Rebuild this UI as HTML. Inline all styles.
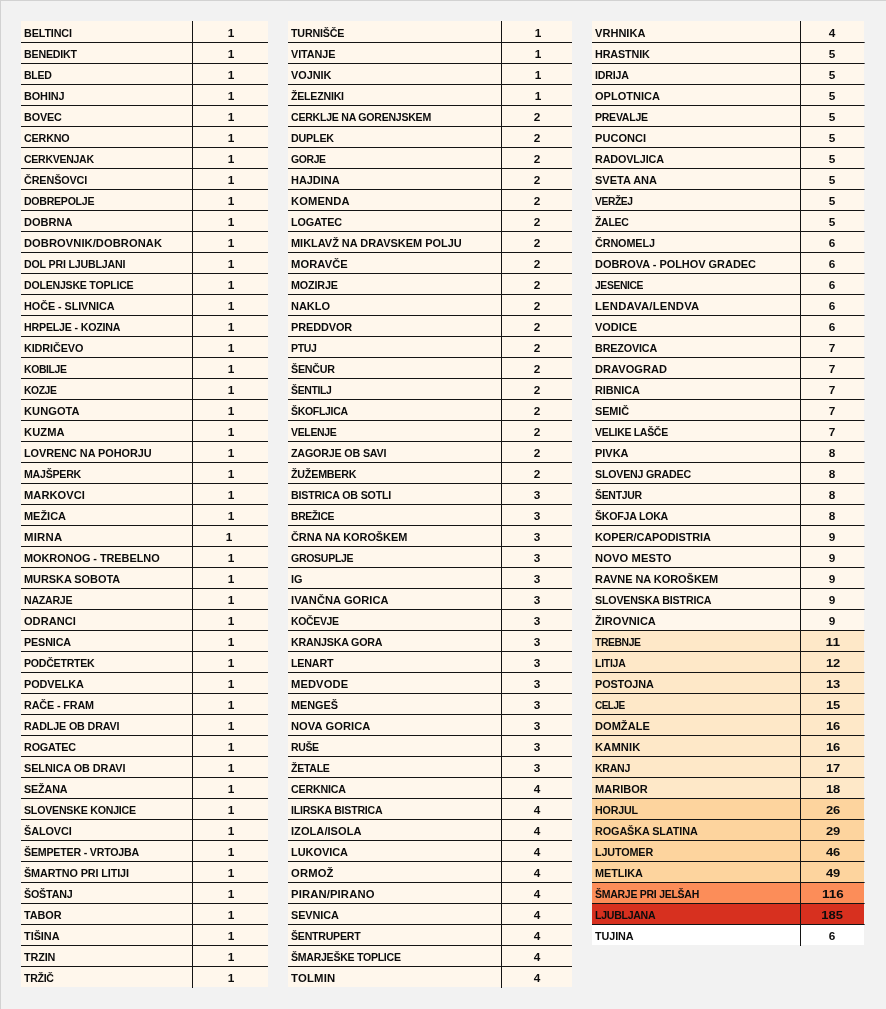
<!DOCTYPE html>
<html><head><meta charset="utf-8"><title>table</title>
<style>
html,body{margin:0;padding:0}
body{width:886px;height:1009px;background:#f2f2f2;position:relative;overflow:hidden;font-family:"Liberation Sans",sans-serif;font-weight:bold;font-size:11px;color:#0c0c0c}
.bt{position:absolute;left:0;top:0;width:886px;height:1px;background:#d2d2d2}
.bl{position:absolute;left:0;top:0;width:1px;height:1009px;background:#d2d2d2}
.t{position:absolute;top:21px;will-change:transform}
.r{position:relative;height:20px;border-bottom:1px solid #141414;background:#fff7ec}
.r.first{height:21px}
.r.last{border-bottom:0}
.r.b{background:#fee8c8}
.r.c{background:#fdd49e}
.r.d{background:#fc8d59}
.r.e{background:#d7301f}
.r.w{background:#ffffff}
.vl{position:absolute;top:0;width:1px;background:#141414;z-index:2}
.ext{position:absolute;top:0;width:1px;background:repeating-linear-gradient(to bottom,rgba(20,20,20,0) 0,rgba(20,20,20,0) 20px,rgba(20,20,20,.65) 20px,rgba(20,20,20,.65) 21px);background-position:0 1px}
.n,.v{position:absolute;bottom:0;height:20px;line-height:20px;white-space:nowrap;overflow:visible}
.n{left:0}
.n i{font-style:normal;display:inline-block;transform-origin:0 50%;transform:scaleX(1.0);position:relative;left:3px;top:1px}
.v{text-align:center}
.v i{font-style:normal;display:inline-block;transform:scaleX(1.0);position:relative;top:1px}
</style></head><body>
<div class="bt"></div><div class="bl"></div>
<div class="t" style="left:21px;width:247px">
<div class="vl" style="left:171px;height:967px"></div>
<div class="r first"><span class="n" style="width:171px"><i style="transform:scaleX(0.98);letter-spacing:-0.13px">BELTINCI</i></span><span class="v" style="left:172px;width:75px"><i style="transform:scaleX(1.072);left:.7px">1</i></span></div>
<div class="r"><span class="n" style="width:171px"><i style="transform:scaleX(0.97);letter-spacing:-0.21px">BENEDIKT</i></span><span class="v" style="left:172px;width:75px"><i style="transform:scaleX(1.072);left:.7px">1</i></span></div>
<div class="r"><span class="n" style="width:171px"><i style="transform:scaleX(0.958);letter-spacing:-0.31px">BLED</i></span><span class="v" style="left:172px;width:75px"><i style="transform:scaleX(1.072);left:.7px">1</i></span></div>
<div class="r"><span class="n" style="width:171px"><i style="transform:scaleX(0.988);letter-spacing:-0.09px">BOHINJ</i></span><span class="v" style="left:172px;width:75px"><i style="transform:scaleX(1.072);left:.7px">1</i></span></div>
<div class="r"><span class="n" style="width:171px"><i style="transform:scaleX(0.981);letter-spacing:-0.14px">BOVEC</i></span><span class="v" style="left:172px;width:75px"><i style="transform:scaleX(1.072);left:.7px">1</i></span></div>
<div class="r"><span class="n" style="width:171px"><i style="transform:scaleX(0.977);letter-spacing:-0.18px">CERKNO</i></span><span class="v" style="left:172px;width:75px"><i style="transform:scaleX(1.072);left:.7px">1</i></span></div>
<div class="r"><span class="n" style="width:171px"><i style="transform:scaleX(0.959);letter-spacing:-0.31px">CERKVENJAK</i></span><span class="v" style="left:172px;width:75px"><i style="transform:scaleX(1.072);left:.7px">1</i></span></div>
<div class="r"><span class="n" style="width:171px"><i style="transform:scaleX(0.983);letter-spacing:-0.13px">ČRENŠOVCI</i></span><span class="v" style="left:172px;width:75px"><i style="transform:scaleX(1.072);left:.7px">1</i></span></div>
<div class="r"><span class="n" style="width:171px"><i style="transform:scaleX(0.962);letter-spacing:-0.28px">DOBREPOLJE</i></span><span class="v" style="left:172px;width:75px"><i style="transform:scaleX(1.072);left:.7px">1</i></span></div>
<div class="r"><span class="n" style="width:171px"><i style="transform:scaleX(1.002);letter-spacing:0.01px">DOBRNA</i></span><span class="v" style="left:172px;width:75px"><i style="transform:scaleX(1.072);left:.7px">1</i></span></div>
<div class="r"><span class="n" style="width:171px"><i style="transform:scaleX(1.011);letter-spacing:0.08px">DOBROVNIK/DOBRONAK</i></span><span class="v" style="left:172px;width:75px"><i style="transform:scaleX(1.072);left:.7px">1</i></span></div>
<div class="r"><span class="n" style="width:171px"><i style="transform:scaleX(0.969);letter-spacing:-0.2px">DOL PRI LJUBLJANI</i></span><span class="v" style="left:172px;width:75px"><i style="transform:scaleX(1.072);left:.7px">1</i></span></div>
<div class="r"><span class="n" style="width:171px"><i style="transform:scaleX(0.964);letter-spacing:-0.25px">DOLENJSKE TOPLICE</i></span><span class="v" style="left:172px;width:75px"><i style="transform:scaleX(1.072);left:.7px">1</i></span></div>
<div class="r"><span class="n" style="width:171px"><i style="transform:scaleX(0.987);letter-spacing:-0.08px">HOČE - SLIVNICA</i></span><span class="v" style="left:172px;width:75px"><i style="transform:scaleX(1.072);left:.7px">1</i></span></div>
<div class="r"><span class="n" style="width:171px"><i style="transform:scaleX(0.968);letter-spacing:-0.2px">HRPELJE - KOZINA</i></span><span class="v" style="left:172px;width:75px"><i style="transform:scaleX(1.072);left:.7px">1</i></span></div>
<div class="r"><span class="n" style="width:171px"><i style="transform:scaleX(0.985);letter-spacing:-0.11px">KIDRIČEVO</i></span><span class="v" style="left:172px;width:75px"><i style="transform:scaleX(1.072);left:.7px">1</i></span></div>
<div class="r"><span class="n" style="width:171px"><i style="transform:scaleX(0.946);letter-spacing:-0.37px">KOBILJE</i></span><span class="v" style="left:172px;width:75px"><i style="transform:scaleX(1.072);left:.7px">1</i></span></div>
<div class="r"><span class="n" style="width:171px"><i style="transform:scaleX(0.94);letter-spacing:-0.44px">KOZJE</i></span><span class="v" style="left:172px;width:75px"><i style="transform:scaleX(1.072);left:.7px">1</i></span></div>
<div class="r"><span class="n" style="width:171px"><i style="transform:scaleX(1.008);letter-spacing:0.06px">KUNGOTA</i></span><span class="v" style="left:172px;width:75px"><i style="transform:scaleX(1.072);left:.7px">1</i></span></div>
<div class="r"><span class="n" style="width:171px"><i style="transform:scaleX(1.012);letter-spacing:0.09px">KUZMA</i></span><span class="v" style="left:172px;width:75px"><i style="transform:scaleX(1.072);left:.7px">1</i></span></div>
<div class="r"><span class="n" style="width:171px"><i style="transform:scaleX(0.991);letter-spacing:-0.06px">LOVRENC NA POHORJU</i></span><span class="v" style="left:172px;width:75px"><i style="transform:scaleX(1.072);left:.7px">1</i></span></div>
<div class="r"><span class="n" style="width:171px"><i style="transform:scaleX(0.966);letter-spacing:-0.26px">MAJŠPERK</i></span><span class="v" style="left:172px;width:75px"><i style="transform:scaleX(1.072);left:.7px">1</i></span></div>
<div class="r"><span class="n" style="width:171px"><i style="transform:scaleX(1.009);letter-spacing:0.07px">MARKOVCI</i></span><span class="v" style="left:172px;width:75px"><i style="transform:scaleX(1.072);left:.7px">1</i></span></div>
<div class="r"><span class="n" style="width:171px"><i style="transform:scaleX(0.998);letter-spacing:-0.02px">MEŽICA</i></span><span class="v" style="left:172px;width:75px"><i style="transform:scaleX(1.072);left:.7px">1</i></span></div>
<div class="r"><span class="n" style="width:171px"><i style="transform:scaleX(1.033);letter-spacing:0.23px">MIRNA</i></span><span class="v" style="left:172px;width:75px"><i style="transform:scaleX(1.072);left:-1.1px">1</i></span></div>
<div class="r"><span class="n" style="width:171px"><i style="transform:scaleX(0.993);letter-spacing:-0.05px">MOKRONOG - TREBELNO</i></span><span class="v" style="left:172px;width:75px"><i style="transform:scaleX(1.072);left:.7px">1</i></span></div>
<div class="r"><span class="n" style="width:171px"><i style="transform:scaleX(0.994);letter-spacing:-0.04px">MURSKA SOBOTA</i></span><span class="v" style="left:172px;width:75px"><i style="transform:scaleX(1.072);left:.7px">1</i></span></div>
<div class="r"><span class="n" style="width:171px"><i style="transform:scaleX(0.964);letter-spacing:-0.26px">NAZARJE</i></span><span class="v" style="left:172px;width:75px"><i style="transform:scaleX(1.072);left:.7px">1</i></span></div>
<div class="r"><span class="n" style="width:171px"><i style="transform:scaleX(1.004);letter-spacing:0.03px">ODRANCI</i></span><span class="v" style="left:172px;width:75px"><i style="transform:scaleX(1.072);left:.7px">1</i></span></div>
<div class="r"><span class="n" style="width:171px"><i style="transform:scaleX(0.979);letter-spacing:-0.14px">PESNICA</i></span><span class="v" style="left:172px;width:75px"><i style="transform:scaleX(1.072);left:.7px">1</i></span></div>
<div class="r"><span class="n" style="width:171px"><i style="transform:scaleX(0.964);letter-spacing:-0.27px">PODČETRTEK</i></span><span class="v" style="left:172px;width:75px"><i style="transform:scaleX(1.072);left:.7px">1</i></span></div>
<div class="r"><span class="n" style="width:171px"><i style="transform:scaleX(0.989);letter-spacing:-0.09px">PODVELKA</i></span><span class="v" style="left:172px;width:75px"><i style="transform:scaleX(1.072);left:.7px">1</i></span></div>
<div class="r"><span class="n" style="width:171px"><i style="transform:scaleX(0.981);letter-spacing:-0.13px">RAČE - FRAM</i></span><span class="v" style="left:172px;width:75px"><i style="transform:scaleX(1.072);left:.7px">1</i></span></div>
<div class="r"><span class="n" style="width:171px"><i style="transform:scaleX(0.976);letter-spacing:-0.15px">RADLJE OB DRAVI</i></span><span class="v" style="left:172px;width:75px"><i style="transform:scaleX(1.072);left:.7px">1</i></span></div>
<div class="r"><span class="n" style="width:171px"><i style="transform:scaleX(0.98);letter-spacing:-0.16px">ROGATEC</i></span><span class="v" style="left:172px;width:75px"><i style="transform:scaleX(1.072);left:.7px">1</i></span></div>
<div class="r"><span class="n" style="width:171px"><i style="transform:scaleX(0.989);letter-spacing:-0.08px">SELNICA OB DRAVI</i></span><span class="v" style="left:172px;width:75px"><i style="transform:scaleX(1.072);left:.7px">1</i></span></div>
<div class="r"><span class="n" style="width:171px"><i style="transform:scaleX(0.979);letter-spacing:-0.15px">SEŽANA</i></span><span class="v" style="left:172px;width:75px"><i style="transform:scaleX(1.072);left:.7px">1</i></span></div>
<div class="r"><span class="n" style="width:171px"><i style="transform:scaleX(0.967);letter-spacing:-0.24px">SLOVENSKE KONJICE</i></span><span class="v" style="left:172px;width:75px"><i style="transform:scaleX(1.072);left:.7px">1</i></span></div>
<div class="r"><span class="n" style="width:171px"><i style="transform:scaleX(0.988);letter-spacing:-0.08px">ŠALOVCI</i></span><span class="v" style="left:172px;width:75px"><i style="transform:scaleX(1.072);left:.7px">1</i></span></div>
<div class="r"><span class="n" style="width:171px"><i style="transform:scaleX(0.968);letter-spacing:-0.21px">ŠEMPETER - VRTOJBA</i></span><span class="v" style="left:172px;width:75px"><i style="transform:scaleX(1.072);left:.7px">1</i></span></div>
<div class="r"><span class="n" style="width:171px"><i style="transform:scaleX(0.982);letter-spacing:-0.11px">ŠMARTNO PRI LITIJI</i></span><span class="v" style="left:172px;width:75px"><i style="transform:scaleX(1.072);left:.7px">1</i></span></div>
<div class="r"><span class="n" style="width:171px"><i style="transform:scaleX(0.974);letter-spacing:-0.19px">ŠOŠTANJ</i></span><span class="v" style="left:172px;width:75px"><i style="transform:scaleX(1.072);left:.7px">1</i></span></div>
<div class="r"><span class="n" style="width:171px"><i style="transform:scaleX(0.989);letter-spacing:-0.08px">TABOR</i></span><span class="v" style="left:172px;width:75px"><i style="transform:scaleX(1.072);left:.7px">1</i></span></div>
<div class="r"><span class="n" style="width:171px"><i style="transform:scaleX(0.993);letter-spacing:-0.04px">TIŠINA</i></span><span class="v" style="left:172px;width:75px"><i style="transform:scaleX(1.072);left:.7px">1</i></span></div>
<div class="r"><span class="n" style="width:171px"><i style="transform:scaleX(0.984);letter-spacing:-0.11px">TRZIN</i></span><span class="v" style="left:172px;width:75px"><i style="transform:scaleX(1.072);left:.7px">1</i></span></div>
<div class="r last"><span class="n" style="width:171px"><i style="transform:scaleX(0.958);letter-spacing:-0.28px">TRŽIČ</i></span><span class="v" style="left:172px;width:75px"><i style="transform:scaleX(1.072);left:.7px">1</i></span></div>
</div>
<div class="t" style="left:288px;width:284px">
<div class="vl" style="left:213px;height:967px"></div>
<div class="r first"><span class="n" style="width:213px"><i style="transform:scaleX(0.973);letter-spacing:-0.2px">TURNIŠČE</i></span><span class="v" style="left:214px;width:70px"><i style="transform:scaleX(1.072);left:.7px">1</i></span></div>
<div class="r"><span class="n" style="width:213px"><i style="transform:scaleX(0.987);letter-spacing:-0.09px">VITANJE</i></span><span class="v" style="left:214px;width:70px"><i style="transform:scaleX(1.072);left:.7px">1</i></span></div>
<div class="r"><span class="n" style="width:213px"><i style="transform:scaleX(0.991);letter-spacing:-0.06px">VOJNIK</i></span><span class="v" style="left:214px;width:70px"><i style="transform:scaleX(1.072);left:.7px">1</i></span></div>
<div class="r"><span class="n" style="width:213px"><i style="transform:scaleX(0.964);letter-spacing:-0.23px">ŽELEZNIKI</i></span><span class="v" style="left:214px;width:70px"><i style="transform:scaleX(1.072);left:.7px">1</i></span></div>
<div class="r"><span class="n" style="width:213px"><i style="transform:scaleX(0.962);letter-spacing:-0.27px">CERKLJE NA GORENJSKEM</i></span><span class="v" style="left:214px;width:70px"><i style="transform:scaleX(1.072)">2</i></span></div>
<div class="r"><span class="n" style="width:213px"><i style="transform:scaleX(0.974);letter-spacing:-0.2px">DUPLEK</i></span><span class="v" style="left:214px;width:70px"><i style="transform:scaleX(1.072)">2</i></span></div>
<div class="r"><span class="n" style="width:213px"><i style="transform:scaleX(0.948);letter-spacing:-0.39px">GORJE</i></span><span class="v" style="left:214px;width:70px"><i style="transform:scaleX(1.072)">2</i></span></div>
<div class="r"><span class="n" style="width:213px"><i style="transform:scaleX(0.997);letter-spacing:-0.03px">HAJDINA</i></span><span class="v" style="left:214px;width:70px"><i style="transform:scaleX(1.072)">2</i></span></div>
<div class="r"><span class="n" style="width:213px"><i style="transform:scaleX(1.016);letter-spacing:0.13px">KOMENDA</i></span><span class="v" style="left:214px;width:70px"><i style="transform:scaleX(1.072)">2</i></span></div>
<div class="r"><span class="n" style="width:213px"><i style="transform:scaleX(0.98);letter-spacing:-0.15px">LOGATEC</i></span><span class="v" style="left:214px;width:70px"><i style="transform:scaleX(1.072)">2</i></span></div>
<div class="r"><span class="n" style="width:213px"><i style="transform:scaleX(0.998);letter-spacing:-0.02px">MIKLAVŽ NA DRAVSKEM POLJU</i></span><span class="v" style="left:214px;width:70px"><i style="transform:scaleX(1.072)">2</i></span></div>
<div class="r"><span class="n" style="width:213px"><i style="transform:scaleX(1.014);letter-spacing:0.1px">MORAVČE</i></span><span class="v" style="left:214px;width:70px"><i style="transform:scaleX(1.072)">2</i></span></div>
<div class="r"><span class="n" style="width:213px"><i style="transform:scaleX(0.979);letter-spacing:-0.14px">MOZIRJE</i></span><span class="v" style="left:214px;width:70px"><i style="transform:scaleX(1.072)">2</i></span></div>
<div class="r"><span class="n" style="width:213px"><i style="transform:scaleX(0.999);letter-spacing:-0.01px">NAKLO</i></span><span class="v" style="left:214px;width:70px"><i style="transform:scaleX(1.072)">2</i></span></div>
<div class="r"><span class="n" style="width:213px"><i style="transform:scaleX(0.99);letter-spacing:-0.08px">PREDDVOR</i></span><span class="v" style="left:214px;width:70px"><i style="transform:scaleX(1.072)">2</i></span></div>
<div class="r"><span class="n" style="width:213px"><i style="transform:scaleX(0.954);letter-spacing:-0.32px">PTUJ</i></span><span class="v" style="left:214px;width:70px"><i style="transform:scaleX(1.072)">2</i></span></div>
<div class="r"><span class="n" style="width:213px"><i style="transform:scaleX(0.972);letter-spacing:-0.22px">ŠENČUR</i></span><span class="v" style="left:214px;width:70px"><i style="transform:scaleX(1.072)">2</i></span></div>
<div class="r"><span class="n" style="width:213px"><i style="transform:scaleX(0.947);letter-spacing:-0.34px">ŠENTILJ</i></span><span class="v" style="left:214px;width:70px"><i style="transform:scaleX(1.072)">2</i></span></div>
<div class="r"><span class="n" style="width:213px"><i style="transform:scaleX(0.954);letter-spacing:-0.32px">ŠKOFLJICA</i></span><span class="v" style="left:214px;width:70px"><i style="transform:scaleX(1.072)">2</i></span></div>
<div class="r"><span class="n" style="width:213px"><i style="transform:scaleX(0.953);letter-spacing:-0.34px">VELENJE</i></span><span class="v" style="left:214px;width:70px"><i style="transform:scaleX(1.072)">2</i></span></div>
<div class="r"><span class="n" style="width:213px"><i style="transform:scaleX(0.974);letter-spacing:-0.18px">ZAGORJE OB SAVI</i></span><span class="v" style="left:214px;width:70px"><i style="transform:scaleX(1.072)">2</i></span></div>
<div class="r"><span class="n" style="width:213px"><i style="transform:scaleX(0.973);letter-spacing:-0.21px">ŽUŽEMBERK</i></span><span class="v" style="left:214px;width:70px"><i style="transform:scaleX(1.072)">2</i></span></div>
<div class="r"><span class="n" style="width:213px"><i style="transform:scaleX(0.969);letter-spacing:-0.19px">BISTRICA OB SOTLI</i></span><span class="v" style="left:214px;width:70px"><i style="transform:scaleX(1.072)">3</i></span></div>
<div class="r"><span class="n" style="width:213px"><i style="transform:scaleX(0.945);letter-spacing:-0.38px">BREŽICE</i></span><span class="v" style="left:214px;width:70px"><i style="transform:scaleX(1.072)">3</i></span></div>
<div class="r"><span class="n" style="width:213px"><i style="transform:scaleX(0.994);letter-spacing:-0.05px">ČRNA NA KOROŠKEM</i></span><span class="v" style="left:214px;width:70px"><i style="transform:scaleX(1.072)">3</i></span></div>
<div class="r"><span class="n" style="width:213px"><i style="transform:scaleX(0.958);letter-spacing:-0.31px">GROSUPLJE</i></span><span class="v" style="left:214px;width:70px"><i style="transform:scaleX(1.072)">3</i></span></div>
<div class="r"><span class="n" style="width:213px"><i style="transform:scaleX(0.991);letter-spacing:-0.05px">IG</i></span><span class="v" style="left:214px;width:70px"><i style="transform:scaleX(1.072)">3</i></span></div>
<div class="r"><span class="n" style="width:213px"><i style="transform:scaleX(1.009);letter-spacing:0.06px">IVANČNA GORICA</i></span><span class="v" style="left:214px;width:70px"><i style="transform:scaleX(1.072)">3</i></span></div>
<div class="r"><span class="n" style="width:213px"><i style="transform:scaleX(0.953);letter-spacing:-0.35px">KOČEVJE</i></span><span class="v" style="left:214px;width:70px"><i style="transform:scaleX(1.072)">3</i></span></div>
<div class="r"><span class="n" style="width:213px"><i style="transform:scaleX(0.971);letter-spacing:-0.21px">KRANJSKA GORA</i></span><span class="v" style="left:214px;width:70px"><i style="transform:scaleX(1.072)">3</i></span></div>
<div class="r"><span class="n" style="width:213px"><i style="transform:scaleX(0.974);letter-spacing:-0.2px">LENART</i></span><span class="v" style="left:214px;width:70px"><i style="transform:scaleX(1.072)">3</i></span></div>
<div class="r"><span class="n" style="width:213px"><i style="transform:scaleX(1.014);letter-spacing:0.11px">MEDVODE</i></span><span class="v" style="left:214px;width:70px"><i style="transform:scaleX(1.072)">3</i></span></div>
<div class="r"><span class="n" style="width:213px"><i style="transform:scaleX(0.992);letter-spacing:-0.06px">MENGEŠ</i></span><span class="v" style="left:214px;width:70px"><i style="transform:scaleX(1.072)">3</i></span></div>
<div class="r"><span class="n" style="width:213px"><i style="transform:scaleX(1.012);letter-spacing:0.08px">NOVA GORICA</i></span><span class="v" style="left:214px;width:70px"><i style="transform:scaleX(1.072)">3</i></span></div>
<div class="r"><span class="n" style="width:213px"><i style="transform:scaleX(0.953);letter-spacing:-0.36px">RUŠE</i></span><span class="v" style="left:214px;width:70px"><i style="transform:scaleX(1.072)">3</i></span></div>
<div class="r"><span class="n" style="width:213px"><i style="transform:scaleX(0.959);letter-spacing:-0.29px">ŽETALE</i></span><span class="v" style="left:214px;width:70px"><i style="transform:scaleX(1.072)">3</i></span></div>
<div class="r"><span class="n" style="width:213px"><i style="transform:scaleX(0.972);letter-spacing:-0.2px">CERKNICA</i></span><span class="v" style="left:214px;width:70px"><i style="transform:scaleX(1.072)">4</i></span></div>
<div class="r"><span class="n" style="width:213px"><i style="transform:scaleX(0.963);letter-spacing:-0.23px">ILIRSKA BISTRICA</i></span><span class="v" style="left:214px;width:70px"><i style="transform:scaleX(1.072)">4</i></span></div>
<div class="r"><span class="n" style="width:213px"><i style="transform:scaleX(1.006);letter-spacing:0.04px">IZOLA/ISOLA</i></span><span class="v" style="left:214px;width:70px"><i style="transform:scaleX(1.072)">4</i></span></div>
<div class="r"><span class="n" style="width:213px"><i style="transform:scaleX(0.995);letter-spacing:-0.03px">LUKOVICA</i></span><span class="v" style="left:214px;width:70px"><i style="transform:scaleX(1.072)">4</i></span></div>
<div class="r"><span class="n" style="width:213px"><i style="transform:scaleX(1.02);letter-spacing:0.17px">ORMOŽ</i></span><span class="v" style="left:214px;width:70px"><i style="transform:scaleX(1.072)">4</i></span></div>
<div class="r"><span class="n" style="width:213px"><i style="transform:scaleX(1.022);letter-spacing:0.14px">PIRAN/PIRANO</i></span><span class="v" style="left:214px;width:70px"><i style="transform:scaleX(1.072)">4</i></span></div>
<div class="r"><span class="n" style="width:213px"><i style="transform:scaleX(0.988);letter-spacing:-0.08px">SEVNICA</i></span><span class="v" style="left:214px;width:70px"><i style="transform:scaleX(1.072)">4</i></span></div>
<div class="r"><span class="n" style="width:213px"><i style="transform:scaleX(0.964);letter-spacing:-0.26px">ŠENTRUPERT</i></span><span class="v" style="left:214px;width:70px"><i style="transform:scaleX(1.072)">4</i></span></div>
<div class="r"><span class="n" style="width:213px"><i style="transform:scaleX(0.96);letter-spacing:-0.28px">ŠMARJEŠKE TOPLICE</i></span><span class="v" style="left:214px;width:70px"><i style="transform:scaleX(1.072)">4</i></span></div>
<div class="r last"><span class="n" style="width:213px"><i style="transform:scaleX(1.03);letter-spacing:0.21px">TOLMIN</i></span><span class="v" style="left:214px;width:70px"><i style="transform:scaleX(1.072)">4</i></span></div>
</div>
<div class="t" style="left:592px;width:272px">
<div class="vl" style="left:208px;height:925px"></div>
<div class="r first"><span class="n" style="width:208px"><i style="transform:scaleX(1.004);letter-spacing:0.02px">VRHNIKA</i></span><span class="v" style="left:209px;width:63px"><i style="transform:scaleX(1.072)">4</i></span></div>
<div class="r"><span class="n" style="width:208px"><i style="transform:scaleX(0.982);letter-spacing:-0.13px">HRASTNIK</i></span><span class="v" style="left:209px;width:63px"><i style="transform:scaleX(1.072)">5</i></span></div>
<div class="r"><span class="n" style="width:208px"><i style="transform:scaleX(0.967);letter-spacing:-0.2px">IDRIJA</i></span><span class="v" style="left:209px;width:63px"><i style="transform:scaleX(1.072)">5</i></span></div>
<div class="r"><span class="n" style="width:208px"><i style="transform:scaleX(1.001);letter-spacing:0.0px">OPLOTNICA</i></span><span class="v" style="left:209px;width:63px"><i style="transform:scaleX(1.072)">5</i></span></div>
<div class="r"><span class="n" style="width:208px"><i style="transform:scaleX(0.96);letter-spacing:-0.29px">PREVALJE</i></span><span class="v" style="left:209px;width:63px"><i style="transform:scaleX(1.072)">5</i></span></div>
<div class="r"><span class="n" style="width:208px"><i style="transform:scaleX(1.004);letter-spacing:0.03px">PUCONCI</i></span><span class="v" style="left:209px;width:63px"><i style="transform:scaleX(1.072)">5</i></span></div>
<div class="r"><span class="n" style="width:208px"><i style="transform:scaleX(0.982);letter-spacing:-0.13px">RADOVLJICA</i></span><span class="v" style="left:209px;width:63px"><i style="transform:scaleX(1.072)">5</i></span></div>
<div class="r"><span class="n" style="width:208px"><i style="transform:scaleX(1.001);letter-spacing:0.0px">SVETA ANA</i></span><span class="v" style="left:209px;width:63px"><i style="transform:scaleX(1.072)">5</i></span></div>
<div class="r"><span class="n" style="width:208px"><i style="transform:scaleX(0.937);letter-spacing:-0.45px">VERŽEJ</i></span><span class="v" style="left:209px;width:63px"><i style="transform:scaleX(1.072)">5</i></span></div>
<div class="r"><span class="n" style="width:208px"><i style="transform:scaleX(0.956);letter-spacing:-0.32px">ŽALEC</i></span><span class="v" style="left:209px;width:63px"><i style="transform:scaleX(1.072)">5</i></span></div>
<div class="r"><span class="n" style="width:208px"><i style="transform:scaleX(0.984);letter-spacing:-0.12px">ČRNOMELJ</i></span><span class="v" style="left:209px;width:63px"><i style="transform:scaleX(1.072)">6</i></span></div>
<div class="r"><span class="n" style="width:208px"><i style="transform:scaleX(0.997);letter-spacing:-0.02px">DOBROVA - POLHOV GRADEC</i></span><span class="v" style="left:209px;width:63px"><i style="transform:scaleX(1.072)">6</i></span></div>
<div class="r"><span class="n" style="width:208px"><i style="transform:scaleX(0.94);letter-spacing:-0.41px">JESENICE</i></span><span class="v" style="left:209px;width:63px"><i style="transform:scaleX(1.072)">6</i></span></div>
<div class="r"><span class="n" style="width:208px"><i style="transform:scaleX(1.027);letter-spacing:0.19px">LENDAVA/LENDVA</i></span><span class="v" style="left:209px;width:63px"><i style="transform:scaleX(1.072)">6</i></span></div>
<div class="r"><span class="n" style="width:208px"><i style="transform:scaleX(0.997);letter-spacing:-0.02px">VODICE</i></span><span class="v" style="left:209px;width:63px"><i style="transform:scaleX(1.072)">6</i></span></div>
<div class="r"><span class="n" style="width:208px"><i style="transform:scaleX(0.979);letter-spacing:-0.15px">BREZOVICA</i></span><span class="v" style="left:209px;width:63px"><i style="transform:scaleX(1.072)">7</i></span></div>
<div class="r"><span class="n" style="width:208px"><i style="transform:scaleX(1.005);letter-spacing:0.04px">DRAVOGRAD</i></span><span class="v" style="left:209px;width:63px"><i style="transform:scaleX(1.072)">7</i></span></div>
<div class="r"><span class="n" style="width:208px"><i style="transform:scaleX(0.988);letter-spacing:-0.08px">RIBNICA</i></span><span class="v" style="left:209px;width:63px"><i style="transform:scaleX(1.072)">7</i></span></div>
<div class="r"><span class="n" style="width:208px"><i style="transform:scaleX(0.989);letter-spacing:-0.08px">SEMIČ</i></span><span class="v" style="left:209px;width:63px"><i style="transform:scaleX(1.072)">7</i></span></div>
<div class="r"><span class="n" style="width:208px"><i style="transform:scaleX(0.954);letter-spacing:-0.31px">VELIKE LAŠČE</i></span><span class="v" style="left:209px;width:63px"><i style="transform:scaleX(1.072)">7</i></span></div>
<div class="r"><span class="n" style="width:208px"><i style="transform:scaleX(0.998);letter-spacing:-0.02px">PIVKA</i></span><span class="v" style="left:209px;width:63px"><i style="transform:scaleX(1.072)">8</i></span></div>
<div class="r"><span class="n" style="width:208px"><i style="transform:scaleX(0.969);letter-spacing:-0.22px">SLOVENJ GRADEC</i></span><span class="v" style="left:209px;width:63px"><i style="transform:scaleX(1.072)">8</i></span></div>
<div class="r"><span class="n" style="width:208px"><i style="transform:scaleX(0.954);letter-spacing:-0.33px">ŠENTJUR</i></span><span class="v" style="left:209px;width:63px"><i style="transform:scaleX(1.072)">8</i></span></div>
<div class="r"><span class="n" style="width:208px"><i style="transform:scaleX(0.965);letter-spacing:-0.25px">ŠKOFJA LOKA</i></span><span class="v" style="left:209px;width:63px"><i style="transform:scaleX(1.072)">8</i></span></div>
<div class="r"><span class="n" style="width:208px"><i style="transform:scaleX(0.991);letter-spacing:-0.06px">KOPER/CAPODISTRIA</i></span><span class="v" style="left:209px;width:63px"><i style="transform:scaleX(1.072)">9</i></span></div>
<div class="r"><span class="n" style="width:208px"><i style="transform:scaleX(1.014);letter-spacing:0.11px">NOVO MESTO</i></span><span class="v" style="left:209px;width:63px"><i style="transform:scaleX(1.072)">9</i></span></div>
<div class="r"><span class="n" style="width:208px"><i style="transform:scaleX(0.997);letter-spacing:-0.03px">RAVNE NA KOROŠKEM</i></span><span class="v" style="left:209px;width:63px"><i style="transform:scaleX(1.072)">9</i></span></div>
<div class="r"><span class="n" style="width:208px"><i style="transform:scaleX(0.972);letter-spacing:-0.19px">SLOVENSKA BISTRICA</i></span><span class="v" style="left:209px;width:63px"><i style="transform:scaleX(1.072)">9</i></span></div>
<div class="r"><span class="n" style="width:208px"><i style="transform:scaleX(1.003);letter-spacing:0.02px">ŽIROVNICA</i></span><span class="v" style="left:209px;width:63px"><i style="transform:scaleX(1.072)">9</i></span></div>
<div class="r b"><span class="n" style="width:208px"><i style="transform:scaleX(0.943);letter-spacing:-0.43px">TREBNJE</i></span><span class="v" style="left:209px;width:63px"><i style="transform:scaleX(1.239);left:.6px">11</i></span></div>
<div class="r b"><span class="n" style="width:208px"><i style="transform:scaleX(0.953);letter-spacing:-0.27px">LITIJA</i></span><span class="v" style="left:209px;width:63px"><i style="transform:scaleX(1.178);left:.6px">12</i></span></div>
<div class="r b"><span class="n" style="width:208px"><i style="transform:scaleX(0.986);letter-spacing:-0.11px">POSTOJNA</i></span><span class="v" style="left:209px;width:63px"><i style="transform:scaleX(1.178);left:.6px">13</i></span></div>
<div class="r b"><span class="n" style="width:208px"><i style="transform:scaleX(0.914);letter-spacing:-0.61px">CELJE</i></span><span class="v" style="left:209px;width:63px"><i style="transform:scaleX(1.178);left:.6px">15</i></span></div>
<div class="r b"><span class="n" style="width:208px"><i style="transform:scaleX(1.004);letter-spacing:0.03px">DOMŽALE</i></span><span class="v" style="left:209px;width:63px"><i style="transform:scaleX(1.178);left:.6px">16</i></span></div>
<div class="r b"><span class="n" style="width:208px"><i style="transform:scaleX(1.016);letter-spacing:0.12px">KAMNIK</i></span><span class="v" style="left:209px;width:63px"><i style="transform:scaleX(1.178);left:.6px">16</i></span></div>
<div class="r b"><span class="n" style="width:208px"><i style="transform:scaleX(0.962);letter-spacing:-0.29px">KRANJ</i></span><span class="v" style="left:209px;width:63px"><i style="transform:scaleX(1.178);left:.6px">17</i></span></div>
<div class="r b"><span class="n" style="width:208px"><i style="transform:scaleX(1.003);letter-spacing:0.02px">MARIBOR</i></span><span class="v" style="left:209px;width:63px"><i style="transform:scaleX(1.178);left:.6px">18</i></span></div>
<div class="r c"><span class="n" style="width:208px"><i style="transform:scaleX(0.972);letter-spacing:-0.21px">HORJUL</i></span><span class="v" style="left:209px;width:63px"><i style="transform:scaleX(1.178);left:.6px">26</i></span></div>
<div class="r c"><span class="n" style="width:208px"><i style="transform:scaleX(0.985);letter-spacing:-0.1px">ROGAŠKA SLATINA</i></span><span class="v" style="left:209px;width:63px"><i style="transform:scaleX(1.178);left:.6px">29</i></span></div>
<div class="r c"><span class="n" style="width:208px"><i style="transform:scaleX(0.981);letter-spacing:-0.14px">LJUTOMER</i></span><span class="v" style="left:209px;width:63px"><i style="transform:scaleX(1.178);left:.6px">46</i></span></div>
<div class="r c"><span class="n" style="width:208px"><i style="transform:scaleX(0.989);letter-spacing:-0.08px">METLIKA</i></span><span class="v" style="left:209px;width:63px"><i style="transform:scaleX(1.178);left:.6px">49</i></span></div>
<div class="r d"><span class="n" style="width:208px"><i style="transform:scaleX(0.956);letter-spacing:-0.29px">ŠMARJE PRI JELŠAH</i></span><span class="v" style="left:209px;width:63px"><i style="transform:scaleX(1.219)">116</i></span></div>
<div class="r e"><span class="n" style="width:208px"><i style="transform:scaleX(0.961);letter-spacing:-0.29px">LJUBLJANA</i></span><span class="v" style="left:209px;width:63px"><i style="transform:scaleX(1.179)">185</i></span></div>
<div class="r w last"><span class="n" style="width:208px"><i style="transform:scaleX(0.985);letter-spacing:-0.11px">TUJINA</i></span><span class="v" style="left:209px;width:63px"><i style="transform:scaleX(1.072)">6</i></span></div>
<div class="ext" style="left:272px;height:904px"></div>
</div>
</body></html>
